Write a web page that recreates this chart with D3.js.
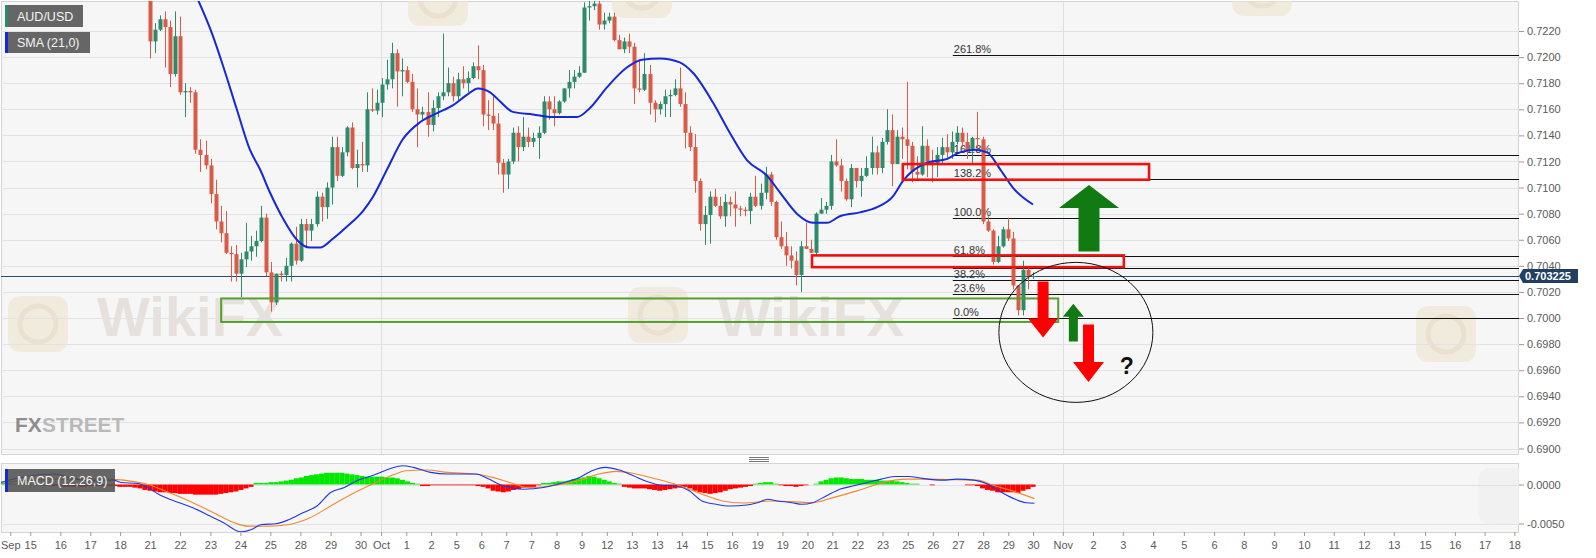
<!DOCTYPE html>
<html><head><meta charset="utf-8">
<script src="https://cdn.jsdelivr.net/npm/d3@7"></script>
<style>
html,body{margin:0;padding:0;background:#fff;}
svg{display:block;font-family:Arial,"Liberation Sans",sans-serif;}
</style></head><body>
<svg id="c" width="1596" height="558"></svg>
<script>
// ---------------- DATA ----------------
// 4-hour candles, index 0 = Sep 21 first candle
const opens = [
0.7258,0.7212,0.7221,0.7229,0.7223,0.7187,0.7216,0.7173,0.7174,0.7173,
0.7129,0.7125,0.7117,0.7095,0.7074,0.7065,0.7050,0.7049,0.7034,0.7045,
0.7051,0.7055,0.7059,0.7077,0.7035,0.7012,0.7034,0.7033,0.7040,0.7057,
0.7044,0.7072,0.7067,0.7072,0.7093,0.7085,0.7100,0.7131,0.7109,0.7127,
0.7146,0.7115,0.7118,0.7117,0.7160,0.7159,0.7165,0.7179,0.7183,0.7203,
0.7189,0.7190,0.7181,0.7160,0.7156,0.7158,0.7148,0.7161,0.7170,0.7173,
0.7180,0.7170,0.7183,0.7180,0.7184,0.7193,0.7190,0.7156,0.7155,0.7149,
0.7119,0.7110,0.7120,0.7142,0.7131,0.7139,0.7135,0.7138,0.7142,0.7166,
0.7160,0.7157,0.7166,0.7176,0.7181,0.7185,0.7188,0.7238,0.7239,0.7241,
0.7225,0.7228,0.7231,0.7213,0.7206,0.7212,0.7208,0.7176,0.7175,0.7187,
0.7165,0.7160,0.7164,0.7170,0.7171,0.7176,0.7164,0.7142,0.7131,0.7105,
0.7072,0.7079,0.7093,0.7086,0.7078,0.7089,0.7087,0.7084,0.7083,0.7082,
0.7093,0.7086,0.7096,0.7110,0.7089,0.7062,0.7055,0.7048,0.7044,0.7033,
0.7055,0.7053,0.7050,0.7080,0.7083,0.7086,0.7120,0.7117,0.7105,0.7091,
0.7115,0.7105,0.7109,0.7115,0.7127,0.7115,0.7135,0.7144,0.7118,0.7139,
0.7137,0.7132,0.7112,0.7110,0.7132,0.7120,0.7118,0.7125,0.7131,0.7127,
0.7135,0.7142,0.7135,0.7129,0.7138,0.7137,0.7074,0.7067,0.7043,0.7055,
0.7068,0.7061,0.7025,0.7006,0.7037,0.7032];
const highs = [
0.7265,0.7226,0.7232,0.7235,0.7228,0.7235,0.7231,0.7180,0.7177,0.7175,
0.7137,0.7136,0.7122,0.7106,0.7086,0.7082,0.7055,0.7056,0.7050,0.7073,
0.7063,0.7067,0.7086,0.7080,0.7043,0.7034,0.7036,0.7046,0.7058,0.7070,
0.7076,0.7076,0.7076,0.7097,0.7096,0.7104,0.7139,0.7139,0.7131,0.7147,
0.7150,0.7129,0.7135,0.7173,0.7176,0.7175,0.7184,0.7198,0.7211,0.7206,
0.7199,0.7193,0.7187,0.7176,0.7162,0.7173,0.7167,0.7173,0.7218,0.7192,
0.7185,0.7188,0.7193,0.7189,0.7196,0.7209,0.7194,0.7167,0.7170,0.7157,
0.7122,0.7122,0.7146,0.7147,0.7154,0.7146,0.7142,0.7147,0.7170,0.7170,
0.7170,0.7167,0.7176,0.7190,0.7190,0.7193,0.7242,0.7244,0.7244,0.7243,
0.7234,0.7234,0.7234,0.7217,0.7215,0.7218,0.7211,0.7198,0.7203,0.7194,
0.7167,0.7166,0.7175,0.7175,0.7183,0.7192,0.7173,0.7147,0.7141,0.7107,
0.7086,0.7097,0.7099,0.7093,0.7095,0.7093,0.7097,0.7086,0.7085,0.7096,
0.7109,0.7103,0.7116,0.7112,0.7090,0.7074,0.7066,0.7055,0.7051,0.7059,
0.7073,0.7060,0.7081,0.7092,0.7089,0.7125,0.7137,0.7122,0.7107,0.7118,
0.7115,0.7115,0.7124,0.7139,0.7132,0.7138,0.7160,0.7156,0.7144,0.7146,
0.7181,0.7135,0.7124,0.7147,0.7137,0.7129,0.7131,0.7138,0.7141,0.7143,
0.7147,0.7146,0.7142,0.7139,0.7158,0.7139,0.7078,0.7068,0.7063,0.7070,
0.7077,0.7066,0.7025,0.7044,0.7040,0.7035];
const lows = [
0.7199,0.7203,0.7220,0.7192,0.7177,0.7185,0.7171,0.7154,0.7165,0.7126,
0.7112,0.7114,0.7088,0.7068,0.7058,0.7049,0.7028,0.7028,0.7016,0.7039,
0.7044,0.7047,0.7058,0.7032,0.7005,0.7010,0.7028,0.7028,0.7028,0.7041,
0.7043,0.7054,0.7059,0.7070,0.7074,0.7076,0.7087,0.7105,0.7108,0.7124,
0.7114,0.7100,0.7112,0.7112,0.7158,0.7156,0.7154,0.7175,0.7176,0.7162,
0.7170,0.7180,0.7158,0.7131,0.7152,0.7139,0.7143,0.7154,0.7167,0.7170,
0.7166,0.7167,0.7176,0.7173,0.7183,0.7183,0.7147,0.7144,0.7144,0.7110,
0.7096,0.7099,0.7118,0.7120,0.7128,0.7131,0.7131,0.7122,0.7141,0.7152,
0.7147,0.7156,0.7165,0.7169,0.7176,0.7184,0.7188,0.7228,0.7236,0.7221,
0.7221,0.7226,0.7212,0.7206,0.7203,0.7203,0.7164,0.7173,0.7174,0.7156,
0.7150,0.7156,0.7154,0.7154,0.7170,0.7162,0.7130,0.7128,0.7096,0.7067,
0.7056,0.7057,0.7085,0.7076,0.7070,0.7078,0.7070,0.7078,0.7078,0.7072,
0.7085,0.7083,0.7091,0.7086,0.7060,0.7053,0.7040,0.7038,0.7025,0.7020,
0.7053,0.7050,0.7048,0.7080,0.7080,0.7083,0.7116,0.7097,0.7090,0.7085,
0.7100,0.7093,0.7108,0.7110,0.7110,0.7111,0.7133,0.7101,0.7118,0.7122,
0.7114,0.7104,0.7106,0.7109,0.7108,0.7104,0.7108,0.7119,0.7123,0.7122,
0.7133,0.7131,0.7122,0.7119,0.7129,0.7072,0.7066,0.7041,0.7042,0.7054,
0.7059,0.7022,0.7002,0.7002,0.7022,0.7030];
const closes = [
0.7212,0.7221,0.7229,0.7223,0.7187,0.7216,0.7173,0.7174,0.7173,0.7129,
0.7125,0.7117,0.7095,0.7074,0.7065,0.7050,0.7049,0.7034,0.7045,0.7051,
0.7055,0.7059,0.7077,0.7035,0.7012,0.7034,0.7033,0.7040,0.7057,0.7044,
0.7072,0.7067,0.7072,0.7093,0.7085,0.7100,0.7131,0.7109,0.7127,0.7146,
0.7115,0.7118,0.7117,0.7160,0.7159,0.7165,0.7179,0.7183,0.7203,0.7189,
0.7190,0.7181,0.7160,0.7156,0.7158,0.7148,0.7161,0.7170,0.7173,0.7180,
0.7170,0.7183,0.7180,0.7184,0.7193,0.7190,0.7156,0.7155,0.7149,0.7119,
0.7110,0.7120,0.7142,0.7131,0.7139,0.7135,0.7138,0.7142,0.7166,0.7160,
0.7157,0.7166,0.7176,0.7181,0.7185,0.7188,0.7238,0.7239,0.7241,0.7225,
0.7228,0.7231,0.7213,0.7206,0.7212,0.7208,0.7176,0.7175,0.7187,0.7165,
0.7160,0.7164,0.7170,0.7171,0.7176,0.7164,0.7142,0.7131,0.7105,0.7072,
0.7079,0.7093,0.7086,0.7078,0.7089,0.7087,0.7084,0.7083,0.7082,0.7093,
0.7086,0.7096,0.7110,0.7089,0.7062,0.7055,0.7048,0.7044,0.7033,0.7055,
0.7053,0.7050,0.7080,0.7083,0.7086,0.7120,0.7117,0.7105,0.7091,0.7115,
0.7105,0.7109,0.7115,0.7127,0.7115,0.7135,0.7144,0.7118,0.7139,0.7137,
0.7132,0.7112,0.7110,0.7132,0.7120,0.7118,0.7125,0.7131,0.7127,0.7135,
0.7142,0.7135,0.7129,0.7138,0.7137,0.7074,0.7067,0.7043,0.7055,0.7068,
0.7061,0.7025,0.7006,0.7037,0.7032,0.703225];

// SMA(21): candle position / value
const smaIdx = [9.5,12.3,14.5,17.2,19.8,21.8,23.8,26.4,29.1,31.7,33.7,36.3,39.0,42.2,44.2,47.0,50.1,53.5,56.9,60.0,62.8,65.0,67.4,69.4,71.9,75.9,79.9,84.6,87.2,90.6,94.5,97.5,101.1,105.0,107.6,111.6,114.9,118.3,122.3,124.9,128.2,131.4,134.2,136.7,140.7,144.1,147.2,149.2,154.0,158.0,160.5,163.5,165.9,168.5,171.0,175.0];
const smaVal = [0.7244,0.7218,0.7193,0.7160,0.7129,0.7114,0.7096,0.7076,0.7060,0.7054,0.7054,0.7061,0.7070,0.7082,0.7093,0.7114,0.7137,0.7150,0.7157,0.7163,0.7171,0.7176,0.7173,0.7166,0.7158,0.7156,0.7154,0.7154,0.7161,0.7177,0.7192,0.7198,0.7199,0.7196,0.7188,0.7165,0.7142,0.7121,0.7109,0.7096,0.7080,0.7073,0.7073,0.7078,0.7081,0.7085,0.7093,0.7105,0.7119,0.7122,0.7127,0.7129,0.7127,0.7114,0.7100,0.7087];

// MACD (12,26,9)
const macdIdx = [-29.7,-25.6,-18.8,-16.1,-12.0,-7.2,-5.8,-2.4,-0.4,1.7,5.8,8.5,11.9,14.6,17.4,18.0,20.1,22.1,24.9,27.6,30.3,33.1,35.8,38.5,41.2,44.0,47.4,50.1,52.2,55.6,59.0,64.5,67.2,69.2,71.3,74.0,78.0,82.1,84.9,87.6,90.3,93.0,95.8,98.5,101.2,104.0,106.7,109.4,112.2,114.9,118.3,120.4,122.4,124.4,127.2,129.2,131.3,134.0,136.7,139.5,142.2,144.9,147.6,150.4,153.1,157.2,159.9,163.3,166.1,168.8,171.5,173.6,175.3];
const macdVal = [0.00026,0.0009,0.00134,0.0009,0.00047,0.00056,0.00026,0.00013,-0.00039,-0.00125,-0.00233,-0.00297,-0.00405,-0.00491,-0.00599,-0.00608,-0.00578,-0.00513,-0.00504,-0.00448,-0.00362,-0.00276,-0.00103,-0.00039,0.00056,0.00112,0.00198,0.00241,0.0022,0.00155,0.00134,0.00134,0.00069,0.00004,-0.00039,-0.0006,-0.00039,0.00026,0.00082,0.00177,0.0022,0.00185,0.00112,0.00039,-0.00009,-0.00017,-0.00073,-0.00211,-0.00254,-0.00276,-0.00263,-0.00233,-0.0019,-0.00211,-0.00233,-0.00254,-0.00233,-0.00147,-0.0006,-0.00017,0.00026,0.00069,0.00103,0.00103,0.00078,0.00056,0.00069,0.00056,0.00004,-0.00103,-0.0019,-0.00233,-0.00241];
const sigIdx = [-29.7,-22.9,-16.1,-9.3,-1.1,3.0,7.8,12.6,16.7,19.4,23.5,27.6,31.7,35.8,39.9,44.0,48.1,50.8,54.9,59.0,64.5,67.9,71.3,75.3,79.4,84.9,89.0,92.4,95.8,99.9,104.7,109.4,113.5,117.6,123.1,127.2,131.3,135.4,140.1,144.2,147.6,150.4,154.5,159.9,164.0,167.4,170.9,175.3];
const sigVal = [0.00026,0.00056,0.00069,0.00069,0.00013,-0.00082,-0.00211,-0.00362,-0.00491,-0.00534,-0.00534,-0.00513,-0.00427,-0.00276,-0.00125,0.00004,0.00121,0.00177,0.00185,0.00155,0.00134,0.00091,0.00026,-0.0004,-0.00017,0.00047,0.00134,0.00168,0.00142,0.00078,-0.00009,-0.00125,-0.00211,-0.00237,-0.00211,-0.0022,-0.00233,-0.00168,-0.00082,0.00004,0.00056,0.00069,0.00069,0.0006,0.00056,-0.00017,-0.00082,-0.00181];
const histFirstIdx = -30;
const histVal = [
0.0002,0.0002,0.0002,0.0001,0.0001,0.0001,0.0001,0.0000,0.0000,-0.0001,
-0.0001,-0.0002,-0.0002,-0.0003,-0.0003,-0.0003,-0.0003,-0.0003,-0.0002,-0.0002,
-0.0002,-0.0002,-0.0002,-0.0002,-0.0003,-0.0003,-0.0003,-0.0004,-0.0005,-0.0007,
-0.0008,-0.0009,-0.0010,-0.0010,-0.0011,-0.0011,-0.0012,-0.0012,-0.0012,-0.0013,
-0.0013,-0.0013,-0.0013,-0.0013,-0.0012,-0.0011,-0.0010,-0.0009,-0.0007,-0.0005,
-0.0003,0.0002,0.0002,0.0002,0.0003,0.0003,0.0004,0.0005,0.0006,0.0008,
0.0009,0.0011,0.0012,0.0013,0.0014,0.0015,0.0015,0.0015,0.0015,0.0014,
0.0013,0.0012,0.0011,0.0010,0.0010,0.0010,0.0010,0.0009,0.0009,0.0008,
0.0006,0.0004,0.0002,0.0001,-0.0002,-0.0002,-0.0001,-0.0001,-0.0001,-0.0001,
-0.0001,-0.0001,-0.0001,-0.0001,-0.0001,-0.0002,-0.0003,-0.0005,-0.0008,-0.0009,
-0.0010,-0.0009,-0.0007,-0.0006,-0.0004,-0.0003,-0.0003,-0.0001,0.0002,0.0002,
0.0003,0.0004,0.0004,0.0005,0.0007,0.0008,0.0009,0.0011,0.0010,0.0008,
0.0006,0.0004,0.0002,0.0001,-0.0003,-0.0004,-0.0005,-0.0005,-0.0005,-0.0006,
-0.0007,-0.0008,-0.0007,-0.0006,-0.0005,-0.0004,-0.0003,-0.0005,-0.0008,-0.0010,
-0.0011,-0.0012,-0.0011,-0.0010,-0.0008,-0.0006,-0.0005,-0.0004,-0.0003,-0.0002,
0.0001,0.0002,0.0003,0.0003,0.0001,-0.0001,-0.0002,-0.0002,-0.0003,-0.0002,
-0.0001,0.0000,0.0001,0.0004,0.0006,0.0008,0.0009,0.0009,0.0008,0.0007,
0.0007,0.0007,0.0006,0.0006,0.0006,0.0005,0.0005,0.0005,0.0004,0.0003,
0.0002,0.0001,0.0001,0.0000,0.0000,-0.0001,0.0000,0.0000,0.0000,0.0000,
0.0000,0.0000,-0.0001,-0.0001,-0.0002,-0.0005,-0.0007,-0.0008,-0.0010,-0.0010,
-0.0010,-0.0010,-0.0011,-0.0008,-0.0006,-0.0003];

// axes
const priceTicks = [0.6900,0.6920,0.6940,0.6960,0.6980,0.7000,0.7020,0.7040,0.7060,0.7080,0.7100,0.7120,0.7140,0.7160,0.7180,0.7200,0.7220];
const macdTicks = [0.0000,-0.0050];
const tickLabels = ["Sep","15","16","17","18","21","22","23","24","25","28","29","30","Oct","1","2","5","6","7","7","8","9","12","13","13","14","15","16","19","19","20","21","22","23","25","26","27","28","29","30","Nov","2","3","4","5","6","8","9","10","11","12","13","15","16","17","18"];
const tickIdx = [-27.7,-23.74,-17.78,-11.85,-5.91,0.02,5.97,11.97,17.92,23.84,29.79,35.79,41.72,45.8,50.79,55.71,60.70,65.68,70.59,75.56,80.56,85.55,90.53,95.50,100.50,105.41,110.39,115.36,120.36,125.33,130.30,135.22,140.21,145.18,150.18,155.15,160.13,165.12,170.10,175.01,180.9,186.9,192.8,198.8,204.9,210.9,216.8,222.8,228.7,234.6,240.6,246.5,252.7,258.6,264.5,270.4];
const monthIdx = [45.8,180.9];

// Fibonacci levels
const fibLevels = [0.7000,0.70182,0.70294,0.70385,0.70476,0.7077,0.71064,0.71246,0.72016];
const fibLabels = ["0.0%","23.6%","38.2%","","61.8%","100.0%","138.2%","161.8%","261.8%"];
const fibStartIdx = 159.1;
const lastPrice = 0.703225;

// annotation zones: [startIdx, endIdx, lowPrice, highPrice]
const zoneStart = [14.1, 149.2, 131.2];
const zoneEnd = [180.0, 198.0, 193.0];
const zoneLow = [0.6997, 0.7106, 0.7039];
const zoneHigh = [0.7015, 0.7118, 0.7048];
// arrows: position, tail price, tip price
const arrowIdx = [186.1, 177.0, 183.0, 186.0];
const arrowFrom = [0.7051, 0.7028, 0.6982, 0.6995];
const arrowTo = [0.7102, 0.6985, 0.7011, 0.6951];
const circleIdx = 183.5, circlePrice = 0.6989;
const qIdx = 193.6, qPrice = 0.6963;

// ---------------- DRAW ----------------
const svg = d3.select("#c");
const P = {l:1, r:1519, t:1, b:454, mt:463, mb:532};
const x = d3.scaleLinear().domain([0,175]).range([150,1033]);
const y = d3.scaleLinear().domain([0.69,0.722]).range([448.5,31]);
const ym = d3.scaleLinear().domain([-0.005,0]).range([523.5,484.5]);

const defs = svg.append("defs");
defs.append("clipPath").attr("id","cm").append("rect")
  .attr("x",P.l).attr("y",P.t).attr("width",P.r-P.l).attr("height",P.b-P.t);
defs.append("clipPath").attr("id","cd").append("rect")
  .attr("x",P.l).attr("y",P.mt).attr("width",P.r-P.l).attr("height",P.mb-P.mt);

// panel backgrounds
svg.append("rect").attr("x",P.l+0.5).attr("y",P.t+0.5).attr("width",P.r-P.l-1).attr("height",P.b-P.t)
  .attr("fill","#f6f6f6").attr("stroke","#d4d4d8");
svg.append("rect").attr("x",P.l+0.5).attr("y",P.mt+0.5).attr("width",P.r-P.l-1).attr("height",P.mb-P.mt)
  .attr("fill","#f6f6f6").attr("stroke","#d4d4d8");

const gm = svg.append("g").attr("clip-path","url(#cm)");
const gd = svg.append("g").attr("clip-path","url(#cd)");

// watermarks
const wm = gm.append("g").attr("pointer-events","none");
[[8,296],[628,287],[1416,306],[408,-30],[612,-38],[1232,-40]].forEach(p=>{
  wm.append("rect").attr("x",p[0]).attr("y",p[1]).attr("width",60).attr("height",56).attr("rx",12)
    .attr("fill","#eee4cf").attr("opacity",0.6);
  wm.append("circle").attr("cx",p[0]+30).attr("cy",p[1]+28).attr("r",18)
    .attr("fill","none").attr("stroke","#e4d8c6").attr("stroke-width",5).attr("opacity",0.6);
});
[[97,336],[718,336]].forEach(p=>{
  wm.append("text").attr("x",p[0]).attr("y",p[1]).text("WikiFX")
    .attr("font-size",56).attr("font-weight","bold").attr("fill","#e2d9d3").attr("opacity",0.7);
});
gd.append("rect").attr("x",1478).attr("y",468).attr("width",60).attr("height",56).attr("rx",12)
  .attr("fill","#f0f0f0").attr("opacity",0.8);

// horizontal grid
gm.selectAll("line.hg").data(priceTicks).join("line").attr("class","hg")
  .attr("x1",P.l).attr("x2",P.r).attr("y1",d=>Math.round(y(d))+0.5).attr("y2",d=>Math.round(y(d))+0.5)
  .attr("stroke","#e2e2e4").attr("stroke-width",1);
gd.selectAll("line.hg").data(macdTicks).join("line").attr("class","hg")
  .attr("x1",P.l).attr("x2",P.r).attr("y1",d=>Math.round(ym(d))+0.5).attr("y2",d=>Math.round(ym(d))+0.5)
  .attr("stroke","#e2e2e4");
// month gridlines
[gm,gd].forEach(g=>g.selectAll("line.vg").data(monthIdx).join("line").attr("class","vg")
  .attr("x1",d=>Math.round(x(d))+0.5).attr("x2",d=>Math.round(x(d))+0.5)
  .attr("y1",0).attr("y2",558).attr("stroke","#dedee2"));

// FXStreet logo (two adjacent words)
const fxFont = "'Liberation Sans Narrow','Arial Narrow',Arial,sans-serif";
const fx1 = gm.append("text").attr("x",15).attr("y",432).attr("font-size",30).attr("font-weight","bold")
  .attr("font-family",fxFont).attr("fill","#8d8d8d").text("FX");
const w1 = fx1.node().getComputedTextLength();
const fx2 = gm.append("text").attr("x",15+w1+0.5).attr("y",432).attr("font-size",30).attr("font-weight","bold")
  .attr("font-family",fxFont).attr("fill","#b9b9b9").text("STREET");
const w2 = fx2.node().getComputedTextLength();
const sc = 109/(w1+w2+0.5);
if (Math.abs(sc-1) > 0.03) {
  fx1.attr("font-size",30*sc);
  const nw1 = fx1.node().getComputedTextLength();
  fx2.attr("font-size",30*sc).attr("x",15+nw1+0.5);
}

// Fibonacci lines and labels
gm.selectAll("line.fib").data(fibLevels).join("line").attr("class","fib")
  .attr("x1",x(fibStartIdx)).attr("x2",P.r)
  .attr("y1",d=>Math.round(y(d))+0.5).attr("y2",d=>Math.round(y(d))+0.5)
  .attr("stroke","#111").attr("stroke-width",1);
gm.selectAll("text.fib").data(fibLevels).join("text").attr("class","fib")
  .attr("x",x(fibStartIdx)+1).attr("y",d=>Math.round(y(d))-2)
  .text((d,i)=>fibLabels[i]).attr("font-size",11).attr("fill","#333");

// last price line
gm.append("line").attr("x1",P.l).attr("x2",P.r)
  .attr("y1",Math.round(y(lastPrice))+0.5).attr("y2",Math.round(y(lastPrice))+0.5)
  .attr("stroke","#2d4a6c").attr("stroke-width",1);

// candles
const UP="#2f8a6c", DN="#d95a46";
const ci = d3.range(closes.length);
const col = i => closes[i] >= opens[i] ? UP : DN;
gm.selectAll("line.wick").data(ci).join("line").attr("class","wick")
  .attr("x1",i=>Math.round(x(i))+0.5).attr("x2",i=>Math.round(x(i))+0.5)
  .attr("y1",i=>y(highs[i])).attr("y2",i=>y(lows[i]))
  .attr("stroke",col).attr("stroke-width",1);
gm.selectAll("rect.body").data(ci).join("rect").attr("class","body")
  .attr("x",i=>Math.round(x(i))-1.5).attr("width",4)
  .attr("y",i=>y(Math.max(opens[i],closes[i])))
  .attr("height",i=>Math.max(1.2, Math.abs(y(opens[i])-y(closes[i]))))
  .attr("fill",col);

// SMA
gm.append("path").datum(d3.zip(smaIdx,smaVal))
  .attr("d",d3.line().x(d=>x(d[0])).y(d=>y(d[1])).curve(d3.curveMonotoneX))
  .attr("fill","none").attr("stroke","#1428d6").attr("stroke-width",2);

// zones
const zoneColor = ["#54a02c","#ee1111","#ee1111"];
const zoneW = [2,2.6,2.6];
zoneStart.forEach((s,i)=>{
  gm.append("rect").attr("x",x(s)).attr("width",x(zoneEnd[i])-x(s))
    .attr("y",y(zoneHigh[i])).attr("height",y(zoneLow[i])-y(zoneHigh[i]))
    .attr("fill","none").attr("stroke",zoneColor[i]).attr("stroke-width",zoneW[i]);
});
// circle
gm.append("ellipse").attr("cx",x(circleIdx)).attr("cy",y(circlePrice)).attr("rx",77).attr("ry",70)
  .attr("fill","none").attr("stroke","#111").attr("stroke-width",1);
// arrows
const arrowColor = ["#127a12","#ff0000","#127a12","#ff0000"];
const headLen = [23,19,13,20], headHalf=[30,15,10.5,15.5], shaftHalf=[10.5,5.5,4.5,5.5];
arrowIdx.forEach((a,i)=>{
  const cx = x(a), yt = y(arrowFrom[i]), yh = y(arrowTo[i]);
  const dir = yh < yt ? 1 : -1; // 1 = pointing up
  const yb = yh + dir*headLen[i];
  const pts = [[cx-shaftHalf[i],yt],[cx-shaftHalf[i],yb],[cx-headHalf[i],yb],[cx,yh],
               [cx+headHalf[i],yb],[cx+shaftHalf[i],yb],[cx+shaftHalf[i],yt]];
  gm.append("path").attr("d","M"+pts.map(p=>p.join(",")).join("L")+"Z").attr("fill",arrowColor[i]);
});
gm.append("text").attr("x",x(qIdx)).attr("y",y(qPrice)+8).attr("text-anchor","middle")
  .attr("font-size",23).attr("font-weight","bold").attr("fill","#111").text("?");

// MACD histogram
gd.selectAll("rect.h").data(histVal).join("rect").attr("class","h")
  .attr("x",(d,k)=>x(histFirstIdx+k)-2.5).attr("width",5.1)
  .attr("y",d=>d>=0?ym(d):ym(0)).attr("height",d=>Math.abs(ym(d)-ym(0)))
  .attr("fill",d=>d>=0?"#00e800":"#ff0000");
gd.append("path").datum(d3.zip(sigIdx,sigVal))
  .attr("d",d3.line().x(d=>x(d[0])).y(d=>ym(d[1])).curve(d3.curveMonotoneX))
  .attr("fill","none").attr("stroke","#f08a30").attr("stroke-width",1.1);
gd.append("path").datum(d3.zip(macdIdx,macdVal))
  .attr("d",d3.line().x(d=>x(d[0])).y(d=>ym(d[1])).curve(d3.curveMonotoneX))
  .attr("fill","none").attr("stroke","#2236e0").attr("stroke-width",1.1);

// panel handle
[457.5,459.5,461.5].forEach(v=>svg.append("line").attr("x1",749).attr("x2",769).attr("y1",v).attr("y2",v)
  .attr("stroke","#777").attr("stroke-width",1));

// right axes
const styleAxis = g => {
  g.select(".domain").remove();
  g.selectAll(".tick line").attr("stroke","#999");
  g.selectAll(".tick text").attr("font-size",11).attr("fill","#5a5a5a").attr("font-family","Arial,'Liberation Sans',sans-serif");
};
svg.append("g").attr("transform",`translate(${P.r},0)`)
  .call(d3.axisRight(y).tickValues(priceTicks).tickFormat(d=>d.toFixed(4)).tickSize(5).tickPadding(3))
  .call(styleAxis);
svg.append("g").attr("transform",`translate(${P.r},0)`)
  .call(d3.axisRight(ym).tickValues(macdTicks).tickFormat(d=>d.toFixed(4)).tickSize(5).tickPadding(3))
  .call(styleAxis);
// bottom axis
svg.append("g").attr("transform",`translate(0,${P.mb})`)
  .call(d3.axisBottom(x).tickValues(tickIdx).tickFormat((d,i)=>tickLabels[i]).tickSize(4).tickPadding(5))
  .call(styleAxis);

// last price tag
const ly = y(lastPrice);
svg.append("path").attr("d",`M${P.r},${ly}L${P.r+4},${ly-7}L${P.r+59},${ly-7}L${P.r+59},${ly+7}L${P.r+4},${ly+7}Z`)
  .attr("fill","#223f62");
svg.append("text").attr("x",P.r+6).attr("y",ly+4).text(lastPrice.toFixed(6))
  .attr("font-size",11).attr("font-weight","bold").attr("fill","#fff");

// legends
function legend(x0,y0,w,h,strip,label){
  const g = svg.append("g");
  g.append("rect").attr("x",x0).attr("y",y0).attr("width",w).attr("height",h).attr("fill","rgba(78,78,78,0.86)");
  g.append("rect").attr("x",x0).attr("y",y0).attr("width",3).attr("height",h).attr("fill",strip);
  g.append("text").attr("x",x0+12).attr("y",y0+h/2+4.5).text(label)
    .attr("font-size",12.5).attr("fill","#f4f4f4");
}
legend(5,5,78,22,"#2f8a6c","AUD/USD");
legend(5,32,85,21,"#1428d6","SMA (21,0)");
legend(5,469,110,23,"#1428d6","MACD (12,26,9)");
</script>
</body></html>
